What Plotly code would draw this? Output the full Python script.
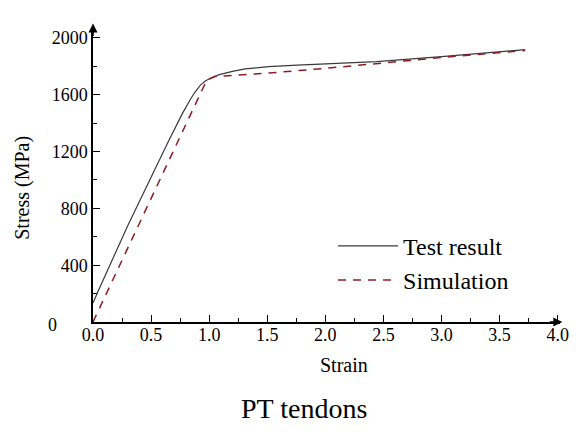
import plotly.graph_objects as go

# Data
strain_test = [0.0, 0.04, 0.30, 0.40, 0.53, 0.655, 0.77, 0.84, 0.88, 0.925, 0.97, 1.02, 1.08, 1.14, 1.2, 1.31, 1.51, 1.76, 2.0, 2.44, 3.0, 3.72]
stress_test = [134, 210, 680, 845, 1070, 1281, 1469, 1570, 1621, 1668, 1698, 1720, 1740, 1752, 1765, 1782, 1798, 1808, 1816, 1833, 1868, 1918]

strain_sim = [0.0, 0.98, 1.05, 1.5, 2.0, 2.6, 3.0, 3.72]
stress_sim = [0, 1705, 1728, 1752, 1786, 1833, 1862, 1912]

x_ticks = [0.0, 0.5, 1.0, 1.5, 2.0, 2.5, 3.0, 3.5, 4.0]
y_ticks = [400, 800, 1200, 1600, 2000]

FONT = "Liberation Serif"
L, R, T, B = 93, 16, 28, 113
W, H = 581, 435

fig = go.Figure()
fig.add_trace(go.Scatter(x=strain_test, y=stress_test, mode="lines", name="Test result",
                         line=dict(color="#3a3a3a", width=1.2)))
fig.add_trace(go.Scatter(x=strain_sim, y=stress_sim, mode="lines", name="Simulation",
                         line=dict(color="#8e1c22", width=1.5, dash="8px,7px")))

fig.update_layout(
    width=W, height=H,
    margin=dict(l=L, r=R, t=T, b=B),
    paper_bgcolor="white", plot_bgcolor="white",
    font=dict(family=FONT, color="black"),
    showlegend=True,
    legend=dict(x=0.514, y=0.20, xanchor="left", yanchor="middle",
                font=dict(family=FONT, size=24, color="black"),
                bgcolor="rgba(0,0,0,0)", itemwidth=60),
    xaxis=dict(range=[0, 4.02], tickvals=x_ticks, ticktext=[f"{v:.1f}" for v in x_ticks],
               showgrid=False, zeroline=False, showline=True, linecolor="black", linewidth=1.5,
               ticks="inside", ticklen=7, tickwidth=1.2, tickcolor="black", ticklabelstandoff=-4,
               minor=dict(ticks="inside", ticklen=4, dtick=0.25, tick0=0, tickcolor="black", tickwidth=1.2),
               tickfont=dict(family=FONT, size=18, color="black")),
    yaxis=dict(range=[0, 2070], tickvals=y_ticks, ticktext=[str(v) for v in y_ticks],
               showgrid=False, zeroline=False, showline=True, linecolor="black", linewidth=1.5,
               ticks="inside", ticklen=7, tickwidth=1.2, tickcolor="black",
               minor=dict(ticks="inside", ticklen=4, dtick=200, tick0=0, tickcolor="black", tickwidth=1.2),
               tickfont=dict(family=FONT, size=18, color="black")),
)

# axis arrowheads
fig.add_annotation(x=0, y=1.015, xref="paper", yref="paper", ax=0, ay=14, text="",
                   showarrow=True, arrowhead=2, arrowsize=1.2, arrowwidth=1.5, arrowcolor="black")
fig.add_annotation(x=1.005, y=0, xref="paper", yref="paper", ax=-14, ay=0, text="",
                   showarrow=True, arrowhead=2, arrowsize=1.2, arrowwidth=1.5, arrowcolor="black")


def px_x(p):
    return (p - L) / (W - L - R)


def px_y(p):
    return (H - B - p) / (H - B - T)


def label(text, cx, cy, size, angle=0):
    fig.add_annotation(x=px_x(cx), y=px_y(cy), xref="paper", yref="paper", text=text,
                       xanchor="center", yanchor="middle", textangle=angle, showarrow=False,
                       font=dict(family=FONT, size=size, color="black"))


label("0", 52, 325, 18)
label("Strain", 347, 365, 20)
label("Stress (MPa)", 22, 188, 20, angle=-90)
label("PT tendons", 306, 408, 28)

fig.write_html("out.html")
